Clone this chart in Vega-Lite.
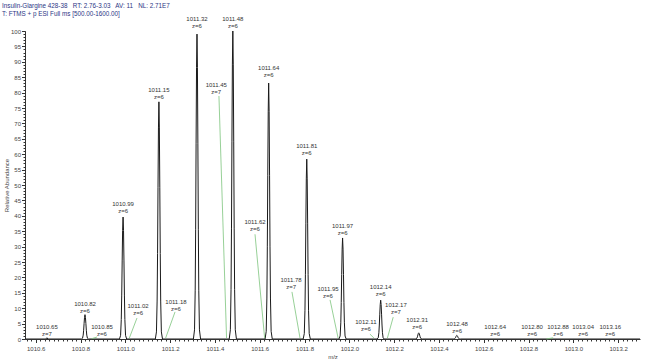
{
  "$schema": "https://vega.github.io/schema/vega-lite/v6.json",
  "width": 615,
  "height": 308,
  "autosize": {"type": "none"},
  "padding": {"left": 25, "top": 31, "right": 10, "bottom": 23},
  "background": "white",
  "config": {"view": {"stroke": null}, "font": "Liberation Sans"},
  "title": {
    "text": ["Insulin-Glargine 428-38\u00a0\u00a0 RT: 2.76-3.03\u00a0\u00a0 AV: 11\u00a0\u00a0 NL: 2.71E7", "T: FTMS + p ESI Full ms [500.00-1600.00]"],
    "anchor": "start",
    "frame": "group",
    "orient": "top",
    "fontSize": 6.3,
    "fontWeight": "normal",
    "color": "#2b3685",
    "lineHeight": 8,
    "offset": -1,
    "dx": -23
  },
  "datasets": {
    "profile": [
      {"mz": 1010.552, "ab": 0},
      {"mz": 1010.645, "ab": 0}, {"mz": 1010.65, "ab": 0.4}, {"mz": 1010.655, "ab": 0},
      {"mz": 1010.804, "ab": 0}, {"mz": 1010.809, "ab": 0.24}, {"mz": 1010.812, "ab": 1.26}, {"mz": 1010.814, "ab": 2.84}, {"mz": 1010.816, "ab": 5.06}, {"mz": 1010.818, "ab": 7.03}, {"mz": 1010.82, "ab": 7.9}, {"mz": 1010.822, "ab": 7.03}, {"mz": 1010.824, "ab": 5.06}, {"mz": 1010.826, "ab": 2.84}, {"mz": 1010.828, "ab": 1.26}, {"mz": 1010.831, "ab": 0.24}, {"mz": 1010.836, "ab": 0},
      {"mz": 1010.974, "ab": 0}, {"mz": 1010.979, "ab": 1.19}, {"mz": 1010.982, "ab": 6.34}, {"mz": 1010.984, "ab": 14.26}, {"mz": 1010.986, "ab": 25.34}, {"mz": 1010.988, "ab": 35.24}, {"mz": 1010.99, "ab": 39.6}, {"mz": 1010.992, "ab": 35.24}, {"mz": 1010.994, "ab": 25.34}, {"mz": 1010.996, "ab": 14.26}, {"mz": 1010.998, "ab": 6.34}, {"mz": 1011.001, "ab": 1.19}, {"mz": 1011.006, "ab": 0},
      {"mz": 1011.134, "ab": 0}, {"mz": 1011.139, "ab": 2.31}, {"mz": 1011.142, "ab": 12.32}, {"mz": 1011.144, "ab": 27.72}, {"mz": 1011.146, "ab": 49.28}, {"mz": 1011.148, "ab": 68.53}, {"mz": 1011.15, "ab": 77}, {"mz": 1011.152, "ab": 68.53}, {"mz": 1011.154, "ab": 49.28}, {"mz": 1011.156, "ab": 27.72}, {"mz": 1011.158, "ab": 12.32}, {"mz": 1011.161, "ab": 2.31}, {"mz": 1011.166, "ab": 0},
      {"mz": 1011.304, "ab": 0}, {"mz": 1011.309, "ab": 2.97}, {"mz": 1011.312, "ab": 15.84}, {"mz": 1011.314, "ab": 35.64}, {"mz": 1011.316, "ab": 63.36}, {"mz": 1011.318, "ab": 88.11}, {"mz": 1011.32, "ab": 99}, {"mz": 1011.322, "ab": 88.11}, {"mz": 1011.324, "ab": 63.36}, {"mz": 1011.326, "ab": 35.64}, {"mz": 1011.328, "ab": 15.84}, {"mz": 1011.331, "ab": 2.97}, {"mz": 1011.336, "ab": 0},
      {"mz": 1011.464, "ab": 0}, {"mz": 1011.469, "ab": 3}, {"mz": 1011.472, "ab": 16}, {"mz": 1011.474, "ab": 36}, {"mz": 1011.476, "ab": 64}, {"mz": 1011.478, "ab": 89}, {"mz": 1011.48, "ab": 100}, {"mz": 1011.482, "ab": 89}, {"mz": 1011.484, "ab": 64}, {"mz": 1011.486, "ab": 36}, {"mz": 1011.488, "ab": 16}, {"mz": 1011.491, "ab": 3}, {"mz": 1011.496, "ab": 0},
      {"mz": 1011.624, "ab": 0}, {"mz": 1011.629, "ab": 2.49}, {"mz": 1011.632, "ab": 13.3}, {"mz": 1011.634, "ab": 29.92}, {"mz": 1011.636, "ab": 53.18}, {"mz": 1011.638, "ab": 73.96}, {"mz": 1011.64, "ab": 83.1}, {"mz": 1011.642, "ab": 73.96}, {"mz": 1011.644, "ab": 53.18}, {"mz": 1011.646, "ab": 29.92}, {"mz": 1011.648, "ab": 13.3}, {"mz": 1011.651, "ab": 2.49}, {"mz": 1011.656, "ab": 0},
      {"mz": 1011.794, "ab": 0}, {"mz": 1011.799, "ab": 1.75}, {"mz": 1011.802, "ab": 9.34}, {"mz": 1011.804, "ab": 21.02}, {"mz": 1011.806, "ab": 37.38}, {"mz": 1011.808, "ab": 51.98}, {"mz": 1011.81, "ab": 58.4}, {"mz": 1011.812, "ab": 51.98}, {"mz": 1011.814, "ab": 37.38}, {"mz": 1011.816, "ab": 21.02}, {"mz": 1011.818, "ab": 9.34}, {"mz": 1011.821, "ab": 1.75}, {"mz": 1011.826, "ab": 0},
      {"mz": 1011.954, "ab": 0}, {"mz": 1011.959, "ab": 0.98}, {"mz": 1011.962, "ab": 5.25}, {"mz": 1011.964, "ab": 11.81}, {"mz": 1011.966, "ab": 20.99}, {"mz": 1011.968, "ab": 29.19}, {"mz": 1011.97, "ab": 32.8}, {"mz": 1011.972, "ab": 29.19}, {"mz": 1011.974, "ab": 20.99}, {"mz": 1011.976, "ab": 11.81}, {"mz": 1011.978, "ab": 5.25}, {"mz": 1011.981, "ab": 0.98}, {"mz": 1011.986, "ab": 0},
      {"mz": 1012.124, "ab": 0}, {"mz": 1012.129, "ab": 0.38}, {"mz": 1012.132, "ab": 2.02}, {"mz": 1012.134, "ab": 4.54}, {"mz": 1012.136, "ab": 8.06}, {"mz": 1012.138, "ab": 11.21}, {"mz": 1012.14, "ab": 12.6}, {"mz": 1012.142, "ab": 11.21}, {"mz": 1012.144, "ab": 8.06}, {"mz": 1012.146, "ab": 4.54}, {"mz": 1012.148, "ab": 2.02}, {"mz": 1012.151, "ab": 0.38}, {"mz": 1012.156, "ab": 0},
      {"mz": 1012.294, "ab": 0}, {"mz": 1012.299, "ab": 0.06}, {"mz": 1012.302, "ab": 0.32}, {"mz": 1012.304, "ab": 0.72}, {"mz": 1012.306, "ab": 1.28}, {"mz": 1012.308, "ab": 1.78}, {"mz": 1012.31, "ab": 2.0}, {"mz": 1012.312, "ab": 1.78}, {"mz": 1012.314, "ab": 1.28}, {"mz": 1012.316, "ab": 0.72}, {"mz": 1012.318, "ab": 0.32}, {"mz": 1012.321, "ab": 0.06}, {"mz": 1012.326, "ab": 0},
      {"mz": 1012.464, "ab": 0}, {"mz": 1012.469, "ab": 0.04}, {"mz": 1012.472, "ab": 0.19}, {"mz": 1012.474, "ab": 0.43}, {"mz": 1012.476, "ab": 0.77}, {"mz": 1012.478, "ab": 1.07}, {"mz": 1012.48, "ab": 1.2}, {"mz": 1012.482, "ab": 1.07}, {"mz": 1012.484, "ab": 0.77}, {"mz": 1012.486, "ab": 0.43}, {"mz": 1012.488, "ab": 0.19}, {"mz": 1012.491, "ab": 0.04}, {"mz": 1012.496, "ab": 0},
      {"mz": 1013.298, "ab": 0}
    ],
    "leaders": [
      {"x1": 1010.874, "y1": 0.65, "x2": 1010.85, "y2": 0.1},
      {"x1": 1011.052, "y1": 6.8, "x2": 1011.018, "y2": 0.3},
      {"x1": 1011.222, "y1": 8.8, "x2": 1011.18, "y2": 0.3},
      {"x1": 1011.418, "y1": 78.9, "x2": 1011.452, "y2": 0.3},
      {"x1": 1011.579, "y1": 34.0, "x2": 1011.622, "y2": 0.3},
      {"x1": 1011.744, "y1": 15.3, "x2": 1011.78, "y2": 0.3},
      {"x1": 1011.914, "y1": 12.7, "x2": 1011.95, "y2": 0.3},
      {"x1": 1012.092, "y1": 1.6, "x2": 1012.11, "y2": 0.3},
      {"x1": 1012.196, "y1": 7.1, "x2": 1012.17, "y2": 0.3},
      {"x1": 1012.91, "y1": 0.4, "x2": 1012.88, "y2": 0.0}
    ],
    "labels": [
      {"mz": 1010.65, "ab": 0.9, "t": "1010.65\nz=7"},
      {"mz": 1010.82, "ab": 8.6, "t": "1010.82\nz=6"},
      {"mz": 1010.896, "ab": 0.9, "t": "1010.85\nz=6"},
      {"mz": 1010.99, "ab": 41.0, "t": "1010.99\nz=6"},
      {"mz": 1011.057, "ab": 7.7, "t": "1011.02\nz=6"},
      {"mz": 1011.15, "ab": 78.0, "t": "1011.15\nz=6"},
      {"mz": 1011.226, "ab": 9.0, "t": "1011.18\nz=6"},
      {"mz": 1011.32, "ab": 100.9, "t": "1011.32\nz=6"},
      {"mz": 1011.406, "ab": 79.4, "t": "1011.45\nz=7"},
      {"mz": 1011.48, "ab": 100.9, "t": "1011.48\nz=6"},
      {"mz": 1011.579, "ab": 35.0, "t": "1011.62\nz=6"},
      {"mz": 1011.64, "ab": 85.0, "t": "1011.64\nz=6"},
      {"mz": 1011.74, "ab": 16.1, "t": "1011.78\nz=7"},
      {"mz": 1011.81, "ab": 59.6, "t": "1011.81\nz=6"},
      {"mz": 1011.905, "ab": 13.2, "t": "1011.95\nz=6"},
      {"mz": 1011.97, "ab": 33.8, "t": "1011.97\nz=6"},
      {"mz": 1012.074, "ab": 2.5, "t": "1012.11\nz=6"},
      {"mz": 1012.14, "ab": 13.9, "t": "1012.14\nz=6"},
      {"mz": 1012.208, "ab": 8.0, "t": "1012.17\nz=7"},
      {"mz": 1012.303, "ab": 3.1, "t": "1012.31\nz=6"},
      {"mz": 1012.481, "ab": 1.85, "t": "1012.48\nz=6"},
      {"mz": 1012.651, "ab": 0.9, "t": "1012.64\nz=6"},
      {"mz": 1012.816, "ab": 0.9, "t": "1012.80\nz=6"},
      {"mz": 1012.932, "ab": 0.9, "t": "1012.88\nz=6"},
      {"mz": 1013.044, "ab": 0.9, "t": "1013.04\nz=6"},
      {"mz": 1013.165, "ab": 0.9, "t": "1013.16\nz=6"}
    ]
  },
  "resolve": {"axis": {"x": "independent", "y": "independent"}},
  "layer": [
    {
      "data": {"name": "profile"},
      "mark": {"type": "line", "color": "#1a1a1a", "strokeWidth": 1, "clip": true},
      "encoding": {
        "x": {
          "field": "mz", "type": "quantitative",
          "scale": {"domain": [1010.5522, 1013.2977], "nice": false, "zero": false},
          "axis": {
            "orient": "bottom", "title": "m/z", "values": [1010.6, 1010.8, 1011.0, 1011.2, 1011.4, 1011.6, 1011.8, 1012.0, 1012.2, 1012.4, 1012.6, 1012.8, 1013.0, 1013.2],
            "format": ".1f", "grid": false, "labelFontSize": 6, "labelColor": "#444", "tickSize": 3.5, "tickColor": "#333",
            "domainColor": "#333", "labelPadding": 3, "titleFontSize": 6, "titleFontWeight": "normal", "titleColor": "#444", "titlePadding": 2
          }
        },
        "y": {
          "field": "ab", "type": "quantitative",
          "scale": {"domain": [0, 100], "nice": false},
          "axis": {
            "orient": "left", "title": "Relative Abundance", "values": [0, 5, 10, 15, 20, 25, 30, 35, 40, 45, 50, 55, 60, 65, 70, 75, 80, 85, 90, 95, 100],
            "format": "d", "grid": false, "labelFontSize": 6, "labelColor": "#444", "tickSize": 3.5, "tickColor": "#333",
            "domainColor": "#333", "labelPadding": 1, "titleFontSize": 6, "titleFontWeight": "normal", "titleColor": "#444", "titlePadding": 1
          }
        }
      }
    },
    {
      "data": {"name": "profile"},
      "mark": {"type": "point", "opacity": 0},
      "encoding": {
        "x": {"field": "mz", "type": "quantitative", "axis": {"orient": "bottom", "title": null, "labels": false, "domain": false, "grid": false, "tickCount": 137, "tickSize": 2, "tickColor": "#333"}},
        "y": {"field": "ab", "type": "quantitative", "axis": {"orient": "left", "title": null, "labels": false, "domain": false, "grid": false, "tickCount": 100, "tickSize": 2, "tickColor": "#333"}}
      }
    },
    {
      "data": {"name": "leaders"},
      "mark": {"type": "rule", "color": "#7cc47c", "strokeWidth": 0.8},
      "encoding": {
        "x": {"field": "x1", "type": "quantitative", "axis": null},
        "y": {"field": "y1", "type": "quantitative", "axis": null},
        "x2": {"field": "x2"},
        "y2": {"field": "y2"}
      }
    },
    {
      "data": {"name": "labels"},
      "mark": {"type": "text", "fontSize": 6, "color": "#333", "align": "center", "baseline": "bottom", "lineBreak": "\n", "lineHeight": 7, "dy": -6},
      "encoding": {
        "x": {"field": "mz", "type": "quantitative", "axis": null},
        "y": {"field": "ab", "type": "quantitative", "axis": null},
        "text": {"field": "t", "type": "nominal"}
      }
    }
  ]
}
